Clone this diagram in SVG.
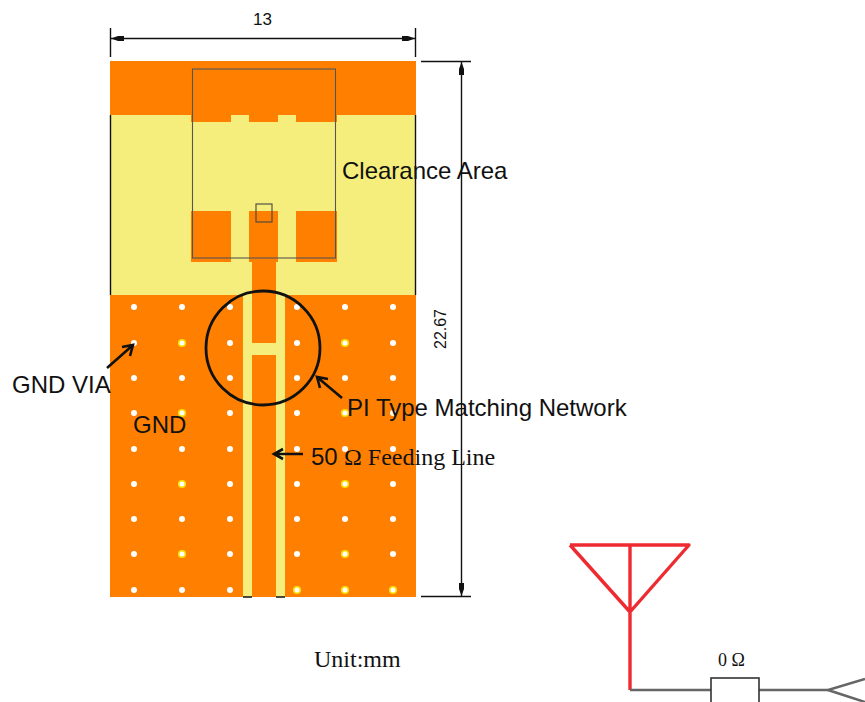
<svg xmlns="http://www.w3.org/2000/svg" width="865" height="702" viewBox="0 0 865 702">
<style>
.o{fill:#ff8000}.y{fill:#f6ee7c}
.l{stroke:#111;stroke-width:1.4;fill:none}
.k{stroke:#111;stroke-width:2.6;fill:none}
.v{fill:#fff}.r{fill:#fff;stroke:#f6e000;stroke-width:1.6}
.s{font-family:"Liberation Sans",Arial,sans-serif;fill:#111}
.t{font-family:"Liberation Serif","Times New Roman",serif;fill:#111}
.red{stroke:#ee2b30;stroke-width:3.400;fill:none;stroke-linejoin:round}
.gr{stroke:#666;stroke-width:2.6;fill:none}
</style>
<defs>
<g id="via"><circle r="3" class="v"/></g>
<g id="viar"><circle r="3.300" class="r"/></g>
</defs>
<rect width="865" height="702" fill="#fff"/>
<g id="board">
<rect x="110" y="61" width="306" height="536" class="o"/>
<rect x="110" y="115" width="306" height="180" class="y"/>
<path class="o" d="M191,115H231V122H191zM249,115H278V122H249zM296,115H337V122H296z"/>
<rect x="191" y="211" width="40" height="51" class="o"/>
<rect x="249" y="211" width="29" height="51" class="o"/>
<rect x="296" y="211" width="41" height="51" class="o"/>
<rect x="252" y="262" width="24" height="33" class="o"/>
<rect x="243" y="295" width="9" height="302" class="y"/>
<rect x="276" y="295" width="9" height="302" class="y"/>
<rect x="252" y="343" width="24" height="12" class="y"/>
<path class="l" d="M110.500,115V295M415.500,115V295"/>
<path class="l" d="M243,597H252M276,597H285"/>
</g>
<g id="vias">
<use href="#via" x="134" y="307"/><use href="#via" x="182" y="307"/><use href="#via" x="230" y="307"/><use href="#via" x="297" y="307"/><use href="#via" x="345" y="307"/><use href="#via" x="393" y="307"/>
<use href="#via" x="134" y="343"/><use href="#viar" x="182" y="343"/><use href="#via" x="230" y="343"/><use href="#via" x="297" y="343"/><use href="#viar" x="345" y="343"/><use href="#via" x="393" y="343"/>
<use href="#via" x="134" y="378"/><use href="#via" x="182" y="378"/><use href="#via" x="230" y="378"/><use href="#via" x="297" y="378"/><use href="#via" x="345" y="378"/><use href="#via" x="393" y="378"/>
<use href="#via" x="134" y="413"/><use href="#viar" x="182" y="413"/><use href="#via" x="230" y="413"/><use href="#via" x="297" y="413"/><use href="#viar" x="345" y="413"/><use href="#via" x="393" y="413"/>
<use href="#via" x="134" y="449"/><use href="#via" x="182" y="449"/><use href="#via" x="230" y="449"/><use href="#via" x="297" y="449"/><use href="#via" x="345" y="449"/><use href="#via" x="393" y="449"/>
<use href="#via" x="134" y="484"/><use href="#viar" x="182" y="484"/><use href="#via" x="230" y="484"/><use href="#via" x="297" y="484"/><use href="#viar" x="345" y="484"/><use href="#via" x="393" y="484"/>
<use href="#via" x="134" y="519"/><use href="#via" x="182" y="519"/><use href="#via" x="230" y="519"/><use href="#via" x="297" y="519"/><use href="#via" x="345" y="519"/><use href="#via" x="393" y="519"/>
<use href="#via" x="134" y="554"/><use href="#viar" x="182" y="554"/><use href="#via" x="230" y="554"/><use href="#via" x="297" y="554"/><use href="#viar" x="345" y="554"/><use href="#via" x="393" y="554"/>
<use href="#via" x="134" y="590"/><use href="#via" x="182" y="590"/><use href="#via" x="230" y="590"/><use href="#viar" x="297" y="590"/><use href="#viar" x="345" y="590"/><use href="#viar" x="393" y="590"/>
</g>
<g id="outlines">
<rect x="192.500" y="69" width="143" height="189" fill="none" stroke="#555" stroke-width="1.100"/>
<rect x="256" y="204" width="16" height="18" fill="none" stroke="#444" stroke-width="1.100"/>
<circle cx="263" cy="348" r="57" fill="none" stroke="#111" stroke-width="2.800"/>
</g>
<g id="connectors">
<path class="l" d="M110.500,28V57M415.500,28V57"/>
<path d="M111,38.500H415" stroke="#111" stroke-width="1.400" fill="none"/>
<path d="M111,38.500L118,36H124V41H118zM415,38.500L408,36H402V41H408z" fill="#111"/>
<path class="l" d="M421,61.500H471M421,596.500H471"/>
<path d="M461.500,62V596" stroke="#111" stroke-width="1.400" fill="none"/>
<path d="M461.500,62L459,69V75H464V69zM461.500,596L459,589V583H464V589z" fill="#111"/>
<path class="k" d="M107,368L133,345M122,347L133,345L130,356"/>
<path class="k" d="M342,398L317,377M320,388L317,377L328,379"/>
<path class="k" d="M303,454H274M283,449L274,454L283,459"/>
</g>
<g id="antenna">
<path class="red" d="M570,545H689L630,612L570,545M630,545V690"/>
<path class="gr" d="M630,690H711M759,690H828"/>
<path class="gr" d="M865,679L828,690L865,702"/>
<rect x="711" y="678" width="48" height="30" fill="#fff" stroke="#333" stroke-width="1.600"/>
</g>
<g id="labels">
<text x="262.500" y="25" text-anchor="middle" font-size="17" class="s">13</text>
<text transform="translate(446,329) rotate(-90)" text-anchor="middle" font-size="16" class="s">22.67</text>
<text x="342" y="179" font-size="24" class="s">Clearance Area</text>
<text x="12" y="393" font-size="24" class="s">GND VIA</text>
<text x="133" y="433" font-size="24" class="s">GND</text>
<text x="347" y="416" font-size="24" class="s">PI Type Matching Network</text>
<text x="311" y="465" font-size="24" class="s">50</text>
<text x="344" y="465" font-size="24" class="t">Ω Feeding Line</text>
<text x="314" y="667" font-size="24" class="t">Unit:mm</text>
<text x="718" y="666" font-size="18" class="t">0 Ω</text>
</g>
</svg>
